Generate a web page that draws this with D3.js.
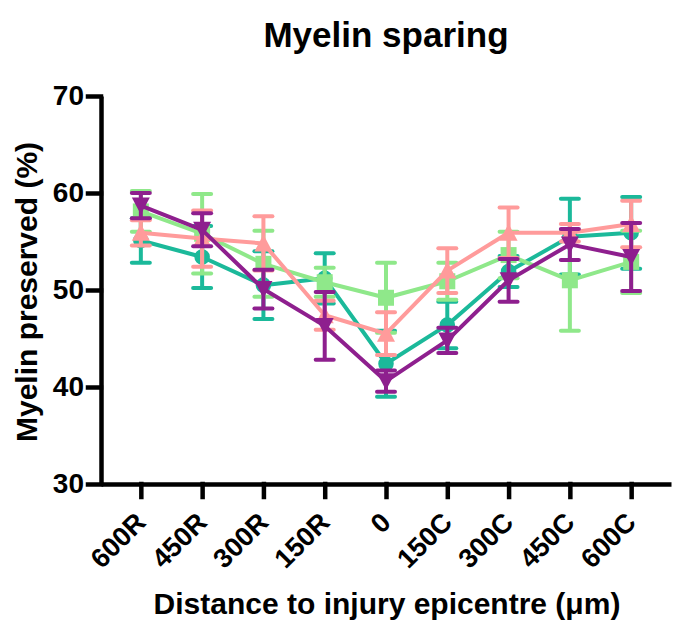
<!DOCTYPE html>
<html>
<head>
<meta charset="utf-8">
<script src="https://cdn.jsdelivr.net/npm/d3@7"></script>
<style>
	body { margin: 0; background: #fff; }
	text { font-family: "Liberation Sans", Arial, sans-serif; font-weight: bold; fill: #000; }
</style>
</head>
<body>
<div id="chart"></div>
<script>
// DATA
const distances = ["600R", "450R", "300R", "150R", "0", "150C", "300C", "450C", "600C"];
const yTicks = [30, 40, 50, 60, 70];

// teal, circles
const tealMean = [55.1, 53.4, 50.5, 51.2, 42.4, 46.4, 51.9, 55.5, 55.9];
const tealErr  = [2.3, 3.2, 3.5, 2.6, 3.4, 2.4, 1.6, 3.9, 3.7];
// light green, squares
const greenMean = [58.1, 55.8, 52.7, 50.8, 49.2, 50.9, 53.6, 51.0, 52.9];
const greenErr  = [2.1, 4.1, 3.4, 1.5, 3.6, 1.9, 2.4, 5.2, 3.2];
// pink, triangles up
const pinkMean = [55.9, 55.3, 54.8, 47.4, 45.5, 52.0, 55.9, 55.9, 56.8];
const pinkErr  = [1.3, 2.9, 2.8, 1.5, 2.2, 2.3, 2.6, 0.9, 2.4];
// purple, triangles down
const purpleMean = [58.7, 56.2, 50.1, 46.3, 40.6, 44.8, 51.0, 54.7, 53.4];
const purpleErr  = [1.3, 1.7, 2.0, 3.5, 1.1, 1.3, 2.2, 1.6, 3.5];

const series = [
	{ mean: tealMean, err: tealErr, color: "#1bb99a", shape: "circle" },
	{ mean: greenMean, err: greenErr, color: "#8fe88a", shape: "square" },
	{ mean: pinkMean, err: pinkErr, color: "#ff9b9b", shape: "triUp" },
	{ mean: purpleMean, err: purpleErr, color: "#8e1f8e", shape: "triDown" }
];


// SVG
const width = 677;
const height = 630;
const margin = { top: 96, left: 101 };
const plotW = 570;
const plotH = 388;

const svg = d3.select("#chart")
	.append("svg")
	.attr("width", width)
	.attr("height", height);

const g = svg.append("g")
	.attr("transform", `translate(${margin.left},${margin.top})`);


// SCALES
const x = d3.scalePoint()
	.domain(distances)
	.range([0, plotW])
	.padding(0.65);

const y = d3.scaleLinear()
	.domain([30, 70])
	.range([plotH, 0]);


// AXES
const xAxis = g.append("g")
	.attr("transform", `translate(0,${plotH})`)
	.call(d3.axisBottom(x).tickSize(13).tickSizeOuter(0));
xAxis.selectAll("text")
	.style("font-size", "27px")
	.attr("text-anchor", "end")
	.attr("x", 0)
	.attr("y", 0)
	.attr("dy", 0)
	.attr("transform", "translate(6,40) rotate(-45)");

const yAxis = g.append("g")
	.call(d3.axisLeft(y).tickValues(yTicks).tickSize(13).tickSizeOuter(0).tickPadding(4));
yAxis.selectAll("text")
	.style("font-size", "28px");

g.selectAll(".domain, .tick line")
	.attr("stroke", "#000")
	.attr("stroke-width", 4.5);
g.selectAll(".tick line").attr("stroke-linecap", "square");


// MARKERS
function markerPath(shape) {
	const s = 8;
	if (shape === "circle") return d3.symbol(d3.symbolCircle, 190)();
	if (shape === "square") return `M${-s},${-s}H${s}V${s}H${-s}Z`;
	if (shape === "triUp") return `M0,${-s - 1}L${s + 1},${s}L${-s - 1},${s}Z`;
	return `M0,${s + 1}L${s + 1},${-s}L${-s - 1},${-s}Z`;
}

const line = d3.line()
	.x((d, i) => x(distances[i]))
	.y(d => y(d));

// DRAW
series.forEach(s => {
	const sg = g.append("g").attr("stroke", s.color).attr("fill", s.color);

	// error bars
	const bars = sg.selectAll(".err")
		.data(s.mean)
		.enter()
		.append("g")
		.attr("class", "err");
	bars.append("line")
		.attr("x1", (d, i) => x(distances[i]))
		.attr("x2", (d, i) => x(distances[i]))
		.attr("y1", (d, i) => y(d + s.err[i]))
		.attr("y2", (d, i) => y(d - s.err[i]))
		.attr("stroke-width", 4);
	[1, -1].forEach(sign => {
		bars.append("line")
			.attr("x1", (d, i) => x(distances[i]) - 9)
			.attr("x2", (d, i) => x(distances[i]) + 9)
			.attr("y1", (d, i) => y(d + sign * s.err[i]))
			.attr("y2", (d, i) => y(d + sign * s.err[i]))
			.attr("stroke-width", 4)
			.attr("stroke-linecap", "round");
	});

	// connecting line
	sg.append("path")
		.datum(s.mean)
		.attr("d", line)
		.attr("fill", "none")
		.attr("stroke-width", 4)
		.attr("stroke-linejoin", "round");

	// points
	sg.selectAll(".pt")
		.data(s.mean)
		.enter()
		.append("path")
		.attr("class", "pt")
		.attr("d", markerPath(s.shape))
		.attr("stroke", "none")
		.attr("transform", (d, i) => `translate(${x(distances[i])},${y(d)})`);
});


// TEXTS
svg.append("text")
	.attr("x", 386)
	.attr("y", 47)
	.attr("text-anchor", "middle")
	.style("font-size", "35px")
	.text("Myelin sparing");

svg.append("text")
	.attr("x", 387)
	.attr("y", 614)
	.attr("text-anchor", "middle")
	.style("font-size", "30px")
	.text("Distance to injury epicentre (μm)");

svg.append("text")
	.attr("transform", `translate(37,${margin.top + plotH / 2 + 2}) rotate(-90)`)
	.attr("text-anchor", "middle")
	.style("font-size", "30px")
	.text("Myelin preserved (%)");
</script>
</body>
</html>
